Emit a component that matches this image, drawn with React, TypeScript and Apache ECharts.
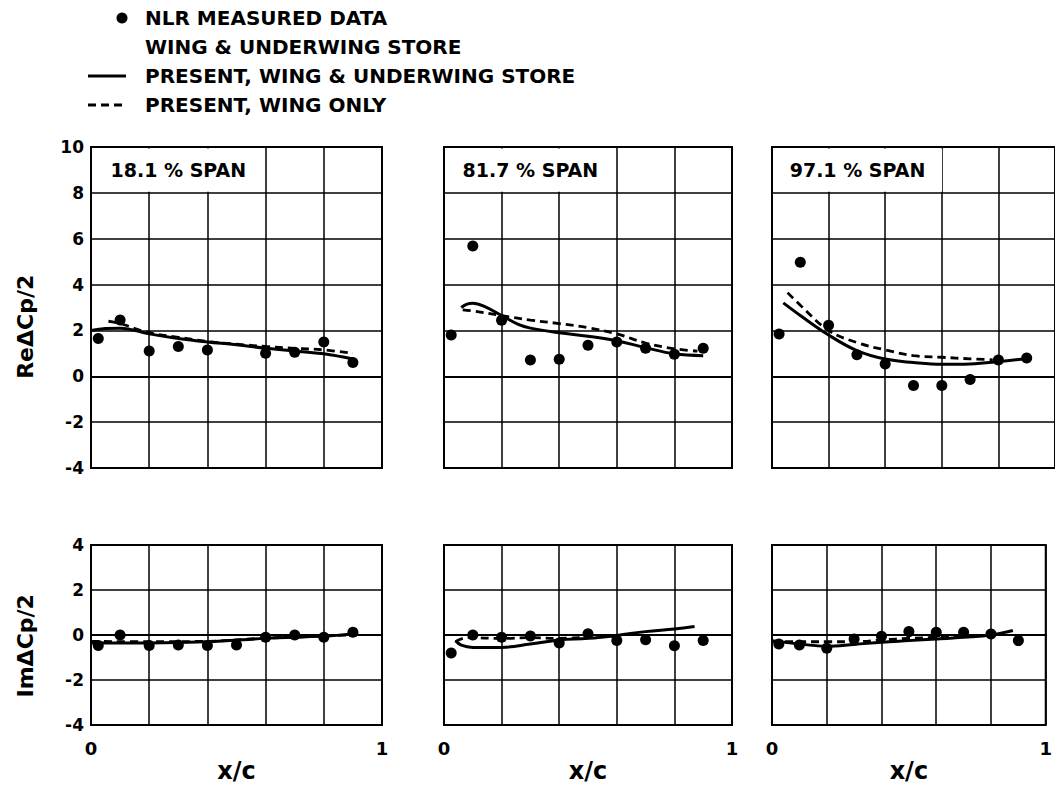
import React, { useEffect, useRef } from "react";
import * as echarts from "echarts";

// ---------- data ----------
const spanLabels = ["18.1 % SPAN", "81.7 % SPAN", "97.1 % SPAN"];
const rowNames = ["Re\u0394Cp/2", "Im\u0394Cp/2"];
const xAxisName = "x/c";

// Real part (top row)
const reMeasured181 = [[0.025, 1.65], [0.1, 2.45], [0.2, 1.1], [0.3, 1.3], [0.4, 1.15], [0.6, 1.0], [0.7, 1.05], [0.8, 1.5], [0.9, 0.6]];
const reWingStore181 = [[0, 2.0], [0.05, 2.08], [0.1, 2.1], [0.2, 1.85], [0.3, 1.65], [0.4, 1.5], [0.5, 1.38], [0.6, 1.22], [0.7, 1.1], [0.8, 0.98], [0.9, 0.75]];
const reWingOnly181 = [[0.06, 2.4], [0.1, 2.3], [0.2, 1.9], [0.3, 1.7], [0.4, 1.52], [0.5, 1.4], [0.6, 1.3], [0.7, 1.22], [0.8, 1.15], [0.9, 1.0]];

const reMeasured817 = [[0.025, 1.8], [0.1, 5.68], [0.2, 2.44], [0.3, 0.71], [0.4, 0.74], [0.5, 1.35], [0.6, 1.5], [0.7, 1.22], [0.8, 0.96], [0.9, 1.22]];
const reWingStore817 = [[0.06, 3.0], [0.08, 3.15], [0.1, 3.18], [0.14, 3.05], [0.2, 2.65], [0.26, 2.25], [0.3, 2.1], [0.4, 1.9], [0.5, 1.75], [0.6, 1.55], [0.7, 1.25], [0.8, 0.98], [0.9, 0.9]];
const reWingOnly817 = [[0.065, 2.9], [0.1, 2.85], [0.2, 2.65], [0.3, 2.45], [0.4, 2.3], [0.5, 2.12], [0.6, 1.85], [0.7, 1.45], [0.8, 1.2], [0.88, 1.1]];

const reMeasured971 = [[0.025, 1.84], [0.1, 4.97], [0.2, 2.23], [0.3, 0.94], [0.4, 0.54], [0.5, -0.4], [0.6, -0.4], [0.7, -0.14], [0.8, 0.71], [0.9, 0.8]];
const reWingStore971 = [[0.04, 3.2], [0.1, 2.65], [0.2, 1.8], [0.3, 1.12], [0.4, 0.75], [0.5, 0.6], [0.6, 0.52], [0.7, 0.54], [0.8, 0.64], [0.9, 0.78]];
const reWingOnly971 = [[0.055, 3.65], [0.1, 3.1], [0.2, 2.0], [0.3, 1.47], [0.4, 1.15], [0.5, 0.9], [0.6, 0.83], [0.7, 0.76], [0.78, 0.72]];

// Imaginary part (bottom row)
const imMeasured181 = [[0.025, -0.47], [0.1, 0.0], [0.2, -0.47], [0.3, -0.44], [0.4, -0.47], [0.5, -0.44], [0.6, -0.1], [0.7, 0.0], [0.8, -0.1], [0.9, 0.12]];
const imWingStore181 = [[0, -0.35], [0.2, -0.35], [0.4, -0.3], [0.6, -0.15], [0.8, -0.05], [0.9, 0.05]];
const imWingOnly181 = [[0, -0.28], [0.2, -0.3], [0.4, -0.28], [0.6, -0.14], [0.8, -0.04], [0.88, 0.0]];

const imMeasured817 = [[0.025, -0.8], [0.1, 0.0], [0.2, -0.1], [0.3, -0.04], [0.4, -0.36], [0.5, 0.05], [0.6, -0.24], [0.7, -0.21], [0.8, -0.48], [0.9, -0.24]];
const imWingStore817 = [[0.04, -0.25], [0.06, -0.45], [0.1, -0.55], [0.2, -0.55], [0.3, -0.4], [0.4, -0.22], [0.5, -0.15], [0.6, -0.02], [0.7, 0.15], [0.8, 0.27], [0.87, 0.38]];
const imWingOnly817 = [[0.04, -0.3], [0.08, -0.12], [0.2, -0.15], [0.3, -0.12], [0.4, -0.15], [0.5, -0.1], [0.6, -0.05]];

const imMeasured971 = [[0.025, -0.4], [0.1, -0.44], [0.2, -0.59], [0.3, -0.18], [0.4, -0.06], [0.5, 0.15], [0.6, 0.12], [0.7, 0.12], [0.8, 0.04], [0.9, -0.25]];
const imWingStore971 = [[0, -0.25], [0.1, -0.4], [0.2, -0.5], [0.3, -0.42], [0.4, -0.32], [0.5, -0.25], [0.6, -0.18], [0.7, -0.1], [0.8, 0.0], [0.88, 0.2]];
const imWingOnly971 = [[0, -0.3], [0.1, -0.3], [0.2, -0.3], [0.3, -0.3], [0.4, -0.22], [0.5, -0.15], [0.6, -0.1], [0.7, -0.05]];

const measured = [reMeasured181, reMeasured817, reMeasured971, imMeasured181, imMeasured817, imMeasured971];
const wingStore = [reWingStore181, reWingStore817, reWingStore971, imWingStore181, imWingStore817, imWingStore971];
const wingOnly = [reWingOnly181, reWingOnly817, reWingOnly971, imWingOnly181, imWingOnly817, imWingOnly971];

const rowYMin = [-4, -4];
const rowYMax = [10, 4];
const yInterval = 2;
const xMin = 0;
const xMax = 1;
const xInterval = 0.2;

const legendTexts = [
  "NLR MEASURED DATA",
  "WING & UNDERWING STORE",
  "PRESENT, WING & UNDERWING STORE",
  "PRESENT, WING ONLY",
];

// ---------- layout ----------
const colLeft = [91, 444, 772];
const colWidth = [291, 288, 285];
const rowTop = [147, 545];
const rowHeight = [321, 180];
const FONT = "DejaVu Sans";

export default function App() {
  const ref = useRef<HTMLDivElement>(null);
  useEffect(() => {
    if (!ref.current) return;
    const chart = echarts.init(ref.current, null, { renderer: "svg" });

    const grids: any[] = [];
    const xAxes: any[] = [];
    const yAxes: any[] = [];
    const series: any[] = [];
    const graphics: any[] = [];

    for (let r = 0; r < 2; r++) {
      for (let c = 0; c < 3; c++) {
        const i = r * 3 + c;
        grids.push({
          left: colLeft[c],
          top: rowTop[r],
          width: colWidth[c],
          height: rowHeight[r],
          show: true,
          borderColor: "#000",
          borderWidth: 2,
          backgroundColor: "transparent",
        });
        xAxes.push({
          type: "value",
          gridIndex: i,
          min: xMin,
          max: xMax,
          interval: xInterval,
          axisLine: { show: true, lineStyle: { color: "#000", width: 2 } },
          axisTick: { show: false },
          splitLine: { show: true, lineStyle: { color: "#000", width: 1.5 } },
          axisLabel: {
            show: r === 1,
            margin: 14,
            color: "#000",
            fontFamily: FONT,
            fontWeight: "bold",
            fontSize: 18,
            showMinLabel: true,
            showMaxLabel: true,
            formatter: (v: number) => (Math.abs(v - xMin) < 1e-9 ? "0" : Math.abs(v - xMax) < 1e-9 ? "1" : ""),
          },
          name: r === 1 ? xAxisName : "",
          nameLocation: "middle",
          nameGap: 34,
          nameTextStyle: { color: "#000", fontFamily: FONT, fontWeight: "bold", fontSize: 24 },
        });
        yAxes.push({
          type: "value",
          gridIndex: i,
          min: rowYMin[r],
          max: rowYMax[r],
          interval: yInterval,
          axisLine: { show: true, lineStyle: { color: "#000", width: 2 } },
          axisTick: { show: false },
          splitLine: { show: true, lineStyle: { color: "#000", width: 1.5 } },
          axisLabel: {
            show: c === 0,
            margin: 7,
            color: "#000",
            fontFamily: FONT,
            fontWeight: "bold",
            fontSize: 17,
          },
        });
        series.push({
          type: "scatter",
          xAxisIndex: i,
          yAxisIndex: i,
          data: measured[i],
          symbol: "circle",
          symbolSize: 11,
          itemStyle: { color: "#000", opacity: 1 },
          z: 5,
        });
        series.push({
          type: "line",
          xAxisIndex: i,
          yAxisIndex: i,
          data: wingStore[i],
          smooth: 0.4,
          showSymbol: false,
          lineStyle: { color: "#000", width: 3 },
          z: 4,
        });
        series.push({
          type: "line",
          xAxisIndex: i,
          yAxisIndex: i,
          data: wingOnly[i],
          smooth: 0.4,
          showSymbol: false,
          lineStyle: { color: "#000", width: 2.8, type: [8, 5] },
          z: 4,
        });

        if (r === 0) {
          const boxW = (colWidth[c] * 3) / 5;
          const boxH = rowHeight[r] / 7;
          graphics.push({
            type: "rect",
            z: 50,
            shape: { x: colLeft[c] + 1.5, y: rowTop[r] + 1.5, width: boxW - 2.5, height: boxH - 2.5 },
            style: { fill: "#fff" },
          });
          graphics.push({
            type: "text",
            z: 51,
            x: colLeft[c] + boxW / 2,
            y: rowTop[r] + boxH / 2,
            style: {
              text: spanLabels[c],
              fill: "#000",
              font: `bold 19px "${FONT}"`,
              textAlign: "center",
              textVerticalAlign: "middle",
            },
          });
        }
      }
      // row y-axis names
      graphics.push({
        type: "text",
        z: 51,
        x: 25,
        y: rowTop[r] + rowHeight[r] * 0.56,
        rotation: Math.PI / 2,
        style: {
          text: rowNames[r],
          fill: "#000",
          font: `bold 22px "${FONT}"`,
          textAlign: "center",
          textVerticalAlign: "middle",
        },
      });
    }

    // legend
    const legendX = 145;
    const legendY = [18, 47, 76, 105];
    graphics.push({ type: "circle", z: 51, shape: { cx: 122, cy: legendY[0], r: 5.5 }, style: { fill: "#000" } });
    graphics.push({ type: "line", z: 51, shape: { x1: 88, y1: legendY[2], x2: 126, y2: legendY[2] }, style: { stroke: "#000", lineWidth: 3 } });
    graphics.push({ type: "line", z: 51, shape: { x1: 88, y1: legendY[3], x2: 127, y2: legendY[3] }, style: { stroke: "#000", lineWidth: 3, lineDash: [8, 5] } });
    legendTexts.forEach((t, k) => {
      graphics.push({
        type: "text",
        z: 51,
        x: legendX,
        y: legendY[k],
        style: { text: t, fill: "#000", font: `bold 20px "${FONT}"`, textAlign: "left", textVerticalAlign: "middle" },
      });
    });

    chart.setOption({
      animation: false,
      backgroundColor: "#fff",
      grid: grids,
      xAxis: xAxes,
      yAxis: yAxes,
      series,
      graphic: graphics,
    });
    return () => chart.dispose();
  }, []);
  return (
    <div
      ref={ref}
      style={{ position: "fixed", left: 0, top: 0, width: 1055, height: 787, background: "#fff" }}
    />
  );
}
